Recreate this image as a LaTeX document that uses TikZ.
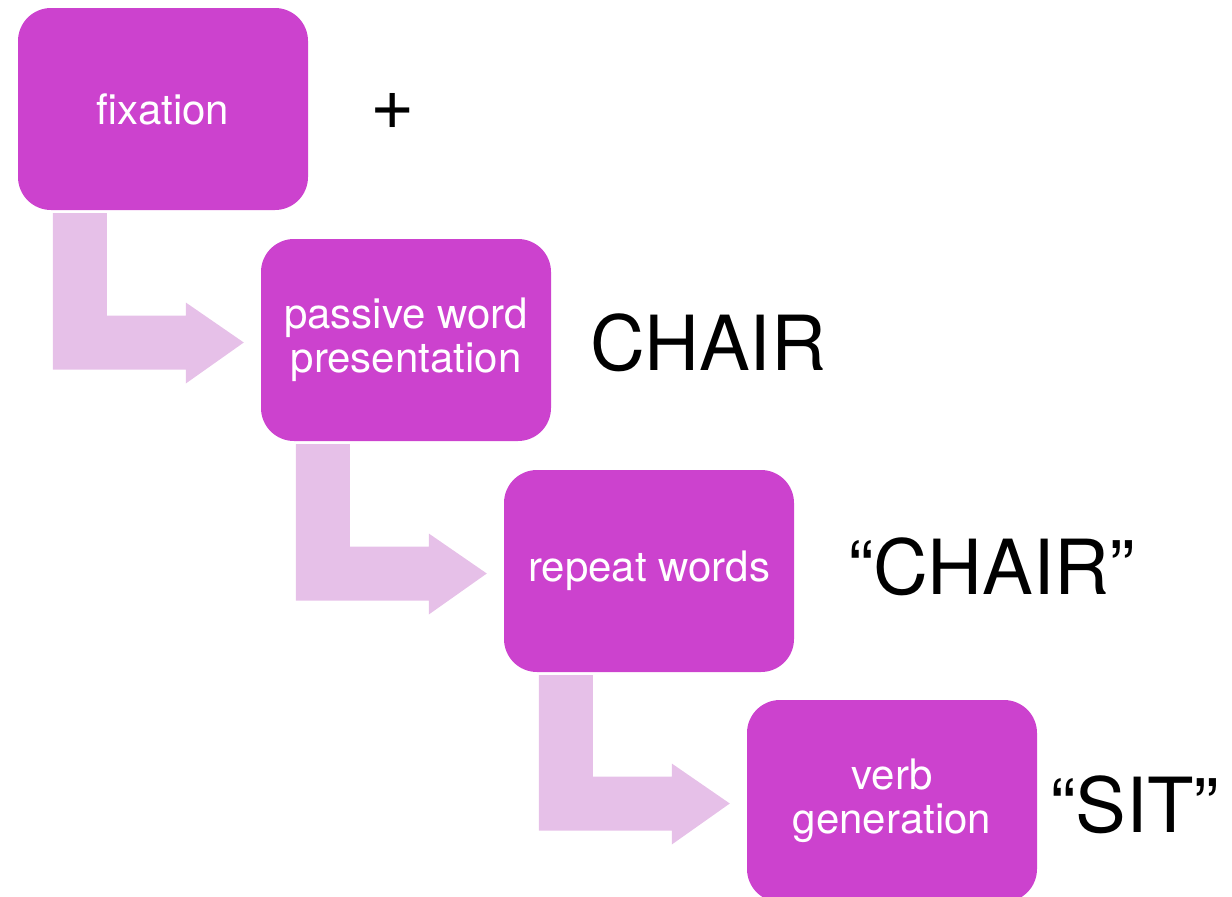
\documentclass[tikz,border=0pt]{standalone}
\usepackage{fontspec}
\setmainfont{TeX Gyre Heros}
\usetikzlibrary{calc}
\definecolor{boxfill}{RGB}{204,66,206}
\definecolor{arrowfill}{RGB}{230,192,232}
\tikzset{
  stage/.style={fill=boxfill, rounded corners=33pt, minimum width=290pt,
    minimum height=202pt, inner sep=0pt, text=white, align=center,
    font=\fontsize{42}{44}\selectfont},
  cue/.style={inner sep=0pt, text=black, font=\fontsize{76}{80}\selectfont},
  flow/.style={fill=arrowfill}
}
% bent block arrow: down from the bottom of #1, then right into the west side of #2
\newcommand\stagelink[2]{%
  \fill[flow] let \p1=(#1.south west), \p2=(#2.west), \n1={\y2-2.5pt} in
    (\x1+35pt,\y1-3pt) -- (\x1+89pt,\y1-3pt) -- (\x1+89pt,\n1+27pt)
    -- (\x2-75pt,\n1+27pt) -- (\x2-75pt,\n1+40pt) -- (\x2-17pt,\n1)
    -- (\x2-75pt,\n1-41pt) -- (\x2-75pt,\n1-27pt) -- (\x1+35pt,\n1-27pt) -- cycle;}
\begin{document}
\begin{tikzpicture}[x=1pt,y=-1pt]
\useasboundingbox (0,0) rectangle (1232,897);
\clip (0,0) rectangle (1232,897);

\node[stage] (fix)  at (163,109) {fixation};
\node[stage] (pwp)  at (406,340) {passive word\\presentation};
\node[stage] (rep)  at (649,571) {repeat words};
\node[stage] (verb) at (892,801) {verb\\generation};

\stagelink{fix}{pwp}
\stagelink{pwp}{rep}
\stagelink{rep}{verb}

\node[cue] (plus) at (393,111) {+};
\node[cue, anchor=base west] (word)   at (590,370) {CHAIR};
\node[cue, anchor=base west] (spoken) at (848,594) {“CHAIR”};
\node[cue, anchor=base west] (verbw)  at (1050,832) {“SIT”};
\end{tikzpicture}
\end{document}
